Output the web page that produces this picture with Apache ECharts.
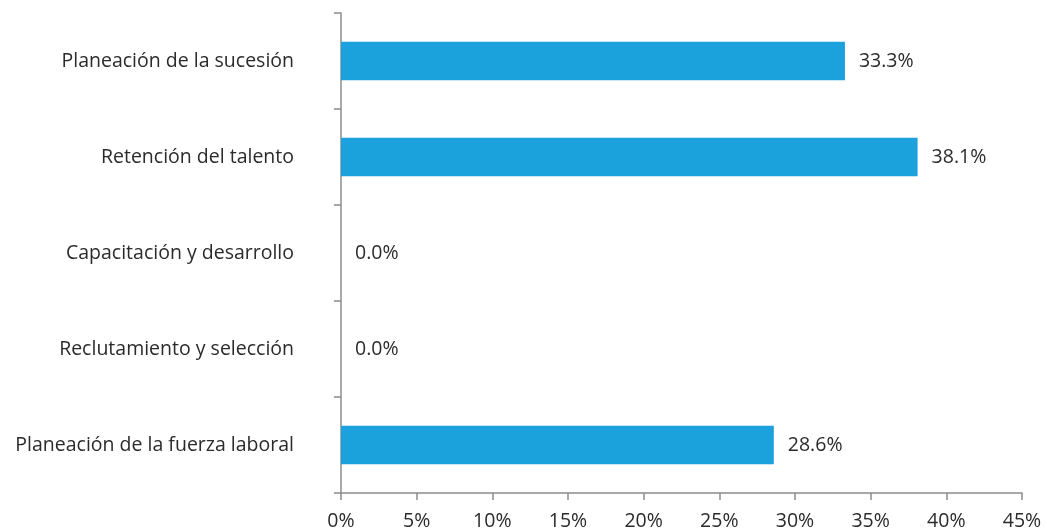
<!DOCTYPE html>
<html>
<head>
<meta charset="utf-8">
<script src="https://cdn.jsdelivr.net/npm/echarts@6/dist/echarts.min.js"></script>
<style>html,body{margin:0;padding:0;background:#fff}#c{width:1047px;height:531px}</style>
</head>
<body>
<div id="c"></div>
<script>
const categories = ['Planeación de la fuerza laboral', 'Reclutamiento y selección', 'Capacitación y desarrollo', 'Retención del talento', 'Planeación de la sucesión'];
const values = [28.6, 0.0, 0.0, 38.1, 33.3];
const xMin = 0, xMax = 45, xStep = 5;

const chart = echarts.init(document.getElementById('c'), null, {renderer: 'canvas'});
const font = '"Open Sans", sans-serif';
const axisColor = '#8c8c8c';
const fs = 19.5;
chart.setOption({
  animation: false,
  grid: {left: 341, right: 25, top: 13, bottom: 38, containLabel: false},
  xAxis: {
    type: 'value', min: xMin, max: xMax, interval: xStep,
    axisLine: {show: true, lineStyle: {color: axisColor, width: 1.5}},
    axisTick: {show: true, length: 7, lineStyle: {color: axisColor, width: 1.5}},
    splitLine: {show: false},
    axisLabel: {formatter: v => v + '%', color: '#2b2b2b', fontSize: fs, fontFamily: font, margin: 18}
  },
  yAxis: {
    type: 'category', data: categories,
    axisLine: {show: true, lineStyle: {color: axisColor, width: 1.5}},
    axisTick: {show: true, length: 7, lineStyle: {color: axisColor, width: 1.5}},
    axisLabel: {color: '#2b2b2b', fontSize: fs, fontFamily: font, margin: 47}
  },
  series: [{
    type: 'bar', data: values, barWidth: '40%',
    itemStyle: {color: '#1ba1db'},
    label: {show: true, position: 'right', distance: 14, formatter: p => p.value.toFixed(1) + '%', color: '#2b2b2b', fontSize: fs, fontFamily: font}
  }]
});
</script>
</body>
</html>
